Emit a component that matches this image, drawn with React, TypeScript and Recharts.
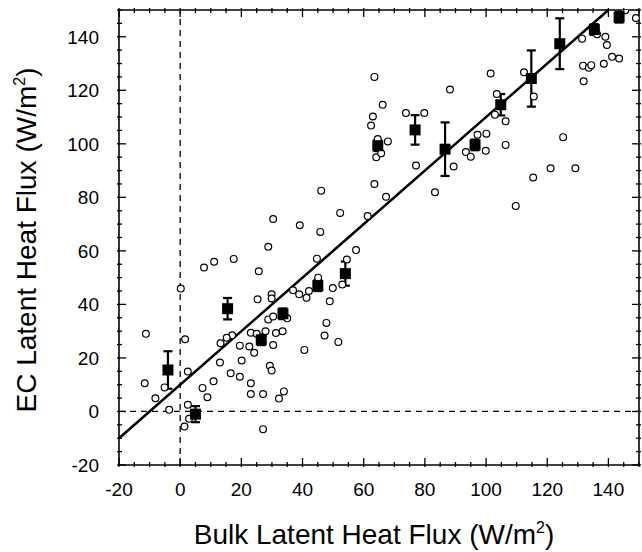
import React from 'react'
import {
    ScatterChart,
    Scatter,
    XAxis,
    YAxis,
    ReferenceLine,
    ErrorBar,
    Label,
} from 'recharts'

// individual half-hour fluxes (W/m2)
const bulkFlux = [
    7.8, 11.1, 17.5, 25.7, 0.2, 25.3, -11.2, 1.6, 17, 15.2, 13.2, 23.1, 25,
    19.5, 22.6, 24.2, 20.1, 13, 2.5, 16.5, 19.5, -11.6, 10.9, 7.3, 8.9, 23.1,
    23.1, -5.1, -8.1, -3.6, 2.5, 2.9, 1.4, 27.1, 27.1, 28.8, 44.7, 57.5, 54.5,
    29.9, 29.9, 36.9, 38.9, 41.3, 42.1, 45.1, 49.9, 48.9, 47.8, 47.2, 51.7,
    28.8, 30.4, 27.9, 31.3, 33.5, 30.4, 29.3, 29.9, 33.9, 32.3, 40.6, 35,
    46.1, 63.5, 67.3, 30.4, 39.1, 45.8, 52.3, 61.3, 53, 63.5, 66.2, 63, 62.4,
    73.8, 79.8, 88.2, 101.5, 67.9, 64.6, 64.1, 65.7, 77.1, 83.3, 89.4, 93.4,
    95, 97.2, 100.1, 99.9, 103.5, 102.9, 106.4, 106.4, 112.4, 115.6, 125.2,
    121.1, 129.2, 115.4, 109.7, 131.4, 139, 139.5, 131.7, 133.6, 134.4, 131.9,
    138.5, 141.2, 143.5, 136.3, 145.5, 149,
]
const ecFlux = [
    53.8, 55.9, 57, 52.4, 45.9, 41.9, 29, 27, 28.5, 27.5, 25.5, 29.4, 29,
    24.6, 24.3, 21.9, 19, 18.3, 14.9, 14.3, 13, 10.5, 11.3, 8.8, 5.3, 10.5,
    6.5, 9, 4.9, 0.6, 2.5, -2.7, -5.6, 6.5, -6.6, 61.5, 57.1, 60.3, 56.8,
    43.8, 42.2, 45.3, 43.8, 42.5, 45, 50, 46.1, 41.2, 33.1, 28.4, 26, 34.4,
    35.5, 30, 29.3, 30, 24.8, 17.1, 15.3, 7.5, 4.8, 23, 34.8, 82.5, 85, 80.2,
    71.9, 69.6, 67.1, 74.2, 73, 47.4, 125, 114.6, 110.2, 106.8, 111.5, 111.5,
    120.3, 126.3, 100.9, 101.8, 95, 96.5, 91.9, 81.9, 91.5, 96.9, 95.2, 103.4,
    103.8, 97.4, 118.6, 110.9, 108.4, 99.6, 126.7, 117.7, 102.5, 90.9, 90.9,
    87.4, 76.8, 139.3, 140, 136.9, 129.2, 128.4, 129.4, 123.4, 129.9, 132.5,
    131.9, 140.9, 149.9, 147,
]

// bin averages with standard error
const binBulk = [
    -4, 5, 15.5, 26.5, 33.6, 45, 54, 64.6, 76.8, 86.6, 96.4, 104.8, 114.8,
    124.1, 135.4, 143.5,
]
const binEc = [
    15.5, -1, 38.4, 26.8, 36.5, 47, 51.5, 99.3, 105.2, 98, 99.6, 114.6, 124.4,
    137.4, 142.7, 147.3,
]
const binErr = [7, 3, 4, 2, 2, 2, 4.5, 2, 5.5, 10, 2, 4, 10.5, 9.5, 2, 2]

// regression line end points
const fitBulk = [-20, 140]
const fitEc = [-10, 150]

const majorTicks = [-20, 0, 20, 40, 60, 80, 100, 120, 140]
const allTicks = [
    -20, -15, -10, -5, 0, 5, 10, 15, 20, 25, 30, 35, 40, 45, 50, 55, 60, 65,
    70, 75, 80, 85, 90, 95, 100, 105, 110, 115, 120, 125, 130, 135, 140, 145,
    150,
]
const axisDomain = [-20, 150]

const FONT = '"Liberation Sans", Arial, Helvetica, sans-serif'
const W = 642
const H = 552
const MAJOR = 9
const MINOR = 5

const points = bulkFlux.map((x, i) => ({ x, y: ecFlux[i] }))
const bins = binBulk.map((x, i) => ({ x, y: binEc[i], err: binErr[i] }))

const len = (v: number) => (majorTicks.includes(v) ? MAJOR : MINOR)

function BottomTick({ x, y, payload }: any) {
    const v = payload.value
    return (
        <g>
            <line x1={x} x2={x} y1={y} y2={y - len(v)} stroke="#000" strokeWidth={1.3} />
            {majorTicks.includes(v) && (
                <text x={x} y={y + 22} dy="0.36em" textAnchor="middle" fontSize={19} fontFamily={FONT} fill="#000">
                    {v}
                </text>
            )}
        </g>
    )
}

function TopTick({ x, y, payload }: any) {
    return <line x1={x} x2={x} y1={y} y2={y + len(payload.value)} stroke="#000" strokeWidth={1.3} />
}

function LeftTick({ x, y, payload }: any) {
    const v = payload.value
    return (
        <g>
            <line x1={x} x2={x + len(v)} y1={y} y2={y} stroke="#000" strokeWidth={1.3} />
            {majorTicks.includes(v) && (
                <text x={x - 18} y={y} dy="0.36em" textAnchor="end" fontSize={19} fontFamily={FONT} fill="#000">
                    {v}
                </text>
            )}
        </g>
    )
}

function RightTick({ x, y, payload }: any) {
    return <line x1={x} x2={x - len(payload.value)} y1={y} y2={y} stroke="#000" strokeWidth={1.3} />
}

const OpenCircle = (p: any) => (
    <circle cx={p.cx} cy={p.cy} r={3.4} fill="#fff" stroke="#000" strokeWidth={1.2} />
)

const FilledSquare = (p: any) => (
    <rect x={p.cx - 5.5} y={p.cy - 5.5} width={11} height={11} fill="#000" />
)

const XTitle = () => (
    <text x={374} y={544} textAnchor="middle" fontSize={28} fontFamily={FONT} fill="#000">
        Bulk Latent Heat Flux (W/m
        <tspan dy={-11} fontSize={16}>2</tspan>
        <tspan dy={11}>)</tspan>
    </text>
)

const YTitle = () => (
    <text x={36} y={240} transform="rotate(-90, 36, 240)" textAnchor="middle" fontSize={28} fontFamily={FONT} fill="#000">
        EC Latent Heat Flux (W/m
        <tspan dy={-11} fontSize={16}>2</tspan>
        <tspan dy={11}>)</tspan>
    </text>
)

const axisLine = { stroke: '#000', strokeWidth: 1.6 }

export default function App() {
    return (
        <div style={{ position: 'absolute', left: 0, top: 0, width: W, height: H, background: '#fff' }}>
            <ScatterChart width={W} height={H} margin={{ top: 9, right: 2, bottom: 0, left: 0 }}>
                <XAxis
                    xAxisId="b"
                    type="number"
                    dataKey="x"
                    domain={axisDomain}
                    ticks={allTicks}
                    interval={0}
                    allowDataOverflow
                    height={87}
                    tickSize={0}
                    tickLine={false}
                    tick={<BottomTick />}
                    axisLine={axisLine}
                >
                    <Label content={<XTitle />} />
                </XAxis>
                <XAxis
                    xAxisId="t"
                    type="number"
                    dataKey="x"
                    orientation="top"
                    domain={axisDomain}
                    ticks={allTicks}
                    interval={0}
                    allowDataOverflow
                    height={1}
                    tickSize={0}
                    tickLine={false}
                    tick={<TopTick />}
                    axisLine={axisLine}
                />
                <YAxis
                    yAxisId="l"
                    type="number"
                    dataKey="y"
                    domain={axisDomain}
                    ticks={allTicks}
                    interval={0}
                    allowDataOverflow
                    width={119}
                    tickSize={0}
                    tickLine={false}
                    tick={<LeftTick />}
                    axisLine={axisLine}
                >
                    <Label content={<YTitle />} />
                </YAxis>
                <YAxis
                    yAxisId="r"
                    type="number"
                    dataKey="y"
                    orientation="right"
                    domain={axisDomain}
                    ticks={allTicks}
                    interval={0}
                    allowDataOverflow
                    width={1}
                    tickSize={0}
                    tickLine={false}
                    tick={<RightTick />}
                    axisLine={axisLine}
                />
                <ReferenceLine xAxisId="b" yAxisId="l" x={0} stroke="#000" strokeWidth={1.3} strokeDasharray="6 5" />
                <ReferenceLine xAxisId="b" yAxisId="l" y={0} stroke="#000" strokeWidth={1.3} strokeDasharray="6 5" />
                <ReferenceLine
                    xAxisId="b"
                    yAxisId="l"
                    segment={[
                        { x: fitBulk[0], y: fitEc[0] },
                        { x: fitBulk[1], y: fitEc[1] },
                    ]}
                    stroke="#000"
                    strokeWidth={2.6}
                />
                <Scatter
                    xAxisId="b"
                    yAxisId="l"
                    data={points}
                    shape={OpenCircle}
                    isAnimationActive={false}
                />
                <Scatter
                    xAxisId="b"
                    yAxisId="l"
                    data={bins}
                    shape={FilledSquare}
                    isAnimationActive={false}
                >
                    <ErrorBar dataKey="err" direction="y" width={4.5} stroke="#000" strokeWidth={2.2} />
                </Scatter>
                {/* frame axes: share the data so they are laid out */}
                <Scatter
                    xAxisId="t"
                    yAxisId="r"
                    data={points}
                    shape={() => <g />}
                    isAnimationActive={false}
                />
            </ScatterChart>
        </div>
    )
}
